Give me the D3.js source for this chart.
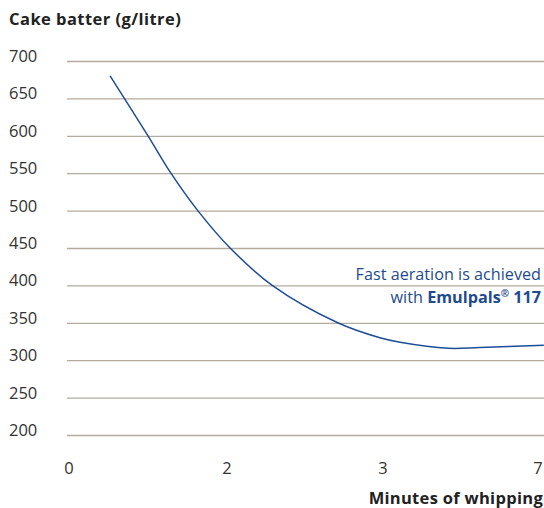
<!DOCTYPE html>
<html>
<head>
<meta charset="utf-8">
<script src="https://cdn.jsdelivr.net/npm/d3@7"></script>
<style>
  body { margin: 0; background: #fff; }
  svg { font-family: "Open Sans", "Noto Sans", sans-serif; }
</style>
</head>
<body>
<div id="chart"></div>
<script>
// minutes of whipping (axis is not linear: 0, 2, 3, 7 equally spaced)
const xTicks = [0, 2, 3, 7];
const yTicks = [200, 250, 300, 350, 400, 450, 500, 550, 600, 650, 700];
const minutes = [0.52, 1.0, 1.29, 1.63, 2.02, 2.29, 2.71, 2.98, 3.44, 4.68, 5.5, 7.15];
const density = [680, 600, 550, 500, 450, 400, 350, 330, 324, 316, 317, 320];

const w = 544, h = 508;
const svg = d3.select('#chart').append('svg').attr('width', w).attr('height', h);

const x = d3.scaleLinear().domain(xTicks).range([69, 227, 383, 538]);
const y = d3.scaleLinear().domain([200, 700]).range([435, 61]);

svg.append('text').attr('x', 9).attr('y', 25)
  .attr('font-size', 16.5).attr('font-weight', 700).attr('fill', '#222')
  .attr('letter-spacing', 0.45)
  .text('Cake batter (g/litre)');

const grid = svg.append('g');
grid.selectAll('line').data(yTicks).enter().append('line')
  .attr('x1', 67).attr('x2', w)
  .attr('y1', d => y(d) + 0.5).attr('y2', d => y(d) + 0.5)
  .attr('stroke', '#b3ab9c').attr('stroke-width', 1.3);

svg.append('g').selectAll('text').data(yTicks).enter().append('text')
  .attr('x', 9).attr('y', d => y(d) + 1)
  .attr('font-size', 16.5).attr('fill', '#333')
  .text(d => d);

svg.append('g').selectAll('text').data(xTicks).enter().append('text')
  .attr('x', d => x(d)).attr('y', 474)
  .attr('text-anchor', 'middle')
  .attr('font-size', 16.5).attr('fill', '#333')
  .text(d => d);

svg.append('text').attr('x', 543).attr('y', 504)
  .attr('text-anchor', 'end')
  .attr('font-size', 16.5).attr('font-weight', 700).attr('fill', '#222')
  .attr('letter-spacing', 0.3)
  .text('Minutes of whipping');

const pts = minutes.map((m, i) => [m, density[i]]);
const line = d3.line().x(d => x(d[0])).y(d => y(d[1])).curve(d3.curveCatmullRom.alpha(0.5));
svg.append('path').datum(pts)
  .attr('d', line)
  .attr('fill', 'none').attr('stroke', '#1d4d97').attr('stroke-width', 1.5);

const note = svg.append('g').attr('fill', '#1f4b8e').attr('font-size', 16.2).attr('text-anchor', 'end');
note.append('text').attr('x', 541).attr('y', 280).text('Fast aeration is achieved');
const t2 = note.append('text').attr('x', 541).attr('y', 303);
t2.append('tspan').text('with ');
t2.append('tspan').attr('font-weight', 700).text('Emulpals');
t2.append('tspan').attr('font-weight', 700).attr('font-size', 10).attr('dy', -6).text('®');
t2.append('tspan').attr('font-weight', 700).attr('dy', 6).text(' 117');
</script>
</body>
</html>
